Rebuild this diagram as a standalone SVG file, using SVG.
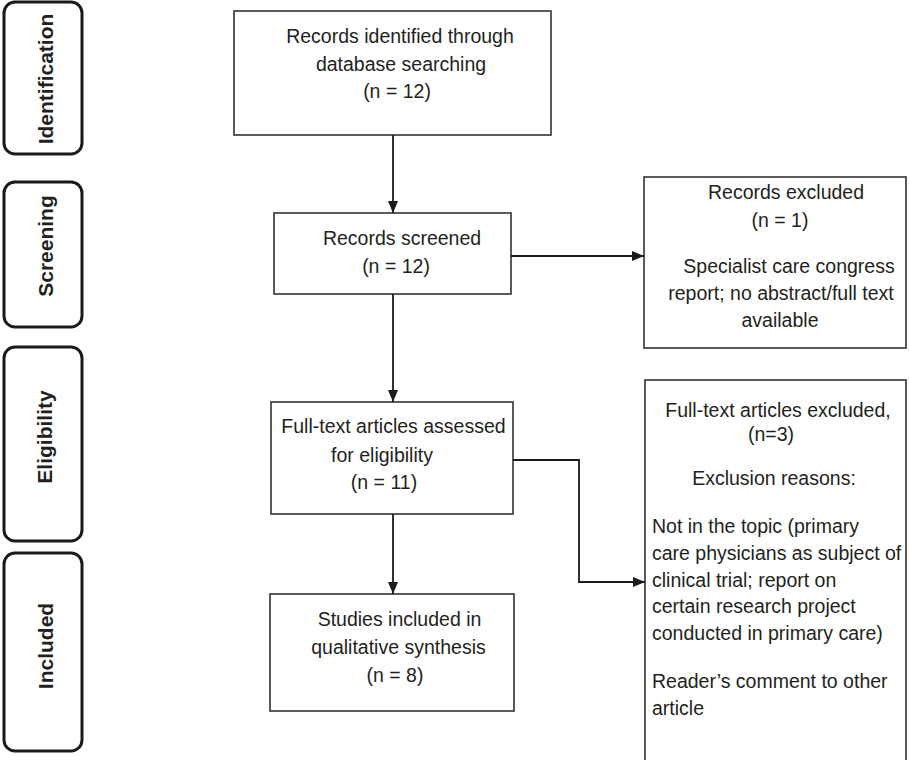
<svg xmlns="http://www.w3.org/2000/svg" width="910" height="760" viewBox="0 0 910 760">
<style>
.box{fill:#fff;stroke:#333;stroke-width:1.6}
.phase{fill:#fff;stroke:#1a1a1a;stroke-width:3}
.t{font-family:"Liberation Sans",Arial,sans-serif;font-size:19.5px;fill:#231f20}
.c{text-anchor:middle}
.pt{font-family:"Liberation Sans",Arial,sans-serif;font-size:21px;font-weight:bold;fill:#231f20;text-anchor:middle}
.edge{fill:none;stroke:#1a1a1a;stroke-width:1.8}
</style>
<defs>
<marker id="arr" viewBox="0 0 12 10" refX="12" refY="5" markerWidth="12" markerHeight="10" markerUnits="userSpaceOnUse" orient="auto">
<path d="M0,0 L12,5 L0,10 Z" fill="#1a1a1a"/>
</marker>
</defs>
<rect width="910" height="760" fill="#fff"/>
<g id="phase-identification">
<rect class="phase" x="4" y="2" width="78" height="152" rx="11"/>
<text class="pt" transform="translate(53,79) rotate(-90)">Identification</text>
</g>
<g id="phase-screening">
<rect class="phase" x="4" y="182" width="78" height="145" rx="11"/>
<text class="pt" transform="translate(53,246) rotate(-90)">Screening</text>
</g>
<g id="phase-eligibility">
<rect class="phase" x="4" y="347" width="78" height="194" rx="11"/>
<text class="pt" transform="translate(52,437) rotate(-90)">Eligibility</text>
</g>
<g id="phase-included">
<rect class="phase" x="4" y="553" width="78" height="198" rx="11"/>
<text class="pt" transform="translate(53,646) rotate(-90)">Included</text>
</g>
<g id="identified">
<rect class="box" x="234" y="11" width="317" height="124"/>
<text class="t c" x="400" y="43">Records identified through</text>
<text class="t c" x="401" y="71">database searching</text>
<text class="t c" x="397" y="98">(n = 12)</text>
</g>
<g id="screened">
<rect class="box" x="274" y="213" width="237" height="81"/>
<text class="t c" x="402" y="245">Records screened</text>
<text class="t c" x="396" y="273">(n = 12)</text>
</g>
<g id="records-excluded">
<rect class="box" x="644" y="177" width="262" height="171"/>
<text class="t c" x="786" y="199">Records excluded</text>
<text class="t c" x="780" y="227">(n = 1)</text>
<text class="t c" x="789" y="273">Specialist care congress</text>
<text class="t c" x="781" y="300">report; no abstract/full text</text>
<text class="t c" x="780" y="327">available</text>
</g>
<g id="assessed">
<rect class="box" x="271" y="402" width="242" height="112"/>
<text class="t c" x="393.5" y="433">Full-text articles assessed</text>
<text class="t c" x="382" y="462">for eligibility</text>
<text class="t c" x="384" y="489">(n = 11)</text>
</g>
<g id="fulltext-excluded">
<rect class="box" x="645" y="380" width="261" height="390"/>
<text class="t c" x="778" y="417">Full-text articles excluded,</text>
<text class="t c" x="771" y="441">(n=3)</text>
<text class="t c" x="774" y="485">Exclusion reasons:</text>
<text class="t" x="652" y="533">Not in the topic (primary</text>
<text class="t" x="652" y="560">care physicians as subject of</text>
<text class="t" x="652" y="587">clinical trial; report on</text>
<text class="t" x="652" y="613">certain research project</text>
<text class="t" x="652" y="640">conducted in primary care)</text>
<text class="t" x="652" y="688">Reader’s comment to other</text>
<text class="t" x="652" y="715">article</text>
</g>
<g id="included">
<rect class="box" x="270" y="594" width="244" height="117"/>
<text class="t c" x="399.5" y="626">Studies included in</text>
<text class="t c" x="398.5" y="654">qualitative synthesis</text>
<text class="t c" x="395" y="682">(n = 8)</text>
</g>
<g id="connectors">
<path class="edge" d="M393,135 V213" marker-end="url(#arr)"/>
<path class="edge" d="M511,256 H644" marker-end="url(#arr)"/>
<path class="edge" d="M393,294 V402" marker-end="url(#arr)"/>
<path class="edge" d="M393,514 V594" marker-end="url(#arr)"/>
<path class="edge" d="M513,460 H579 V582 H645" marker-end="url(#arr)"/>
</g>
</svg>
